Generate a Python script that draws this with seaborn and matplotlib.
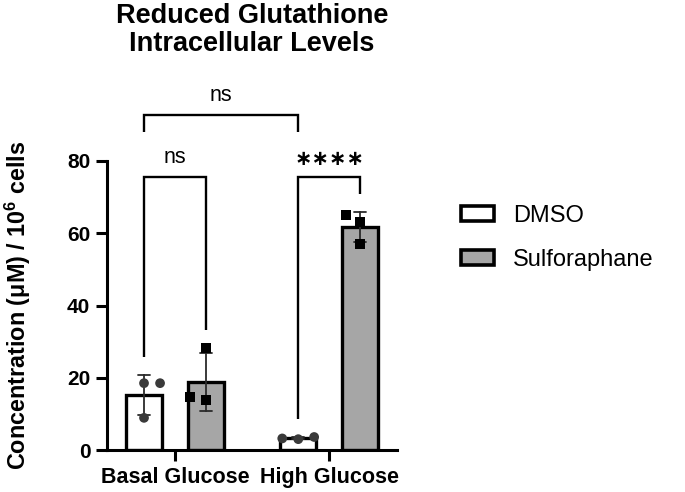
import numpy as np
import pandas as pd
import seaborn as sns
import matplotlib.pyplot as plt
from matplotlib.patches import Patch

# values, 3 replicates per bar
conditions = ["Basal Glucose", "High Glucose"]
treatments = ["DMSO", "Sulforaphane"]
dmso_basal = [18.5, 18.5, 8.9]
dmso_high = [3.0, 3.6, 3.2]
sulf_basal = [28.2, 13.8, 14.6]
sulf_high = [65.1, 63.2, 57.1]
labels_within = ["ns", "∗∗∗∗"]
label_between = "ns"

bar_colors = ["white", "#a6a6a6"]
point_colors = ["#3a3a3a", "black"]
point_markers = ["o", "s"]

rows = []
for cond, vals in zip(conditions, [dmso_basal, dmso_high]):
    rows += [(cond, "DMSO", v) for v in vals]
for cond, vals in zip(conditions, [sulf_basal, sulf_high]):
    rows += [(cond, "Sulforaphane", v) for v in vals]
df = pd.DataFrame(rows, columns=["condition", "treatment", "conc"])

sns.set_style("ticks")
plt.rcParams["font.family"] = ["Liberation Sans", "DejaVu Sans"]
plt.rcParams["mathtext.fontset"] = "custom"
plt.rcParams["mathtext.rm"] = "Liberation Sans"
plt.rcParams["mathtext.bf"] = "Liberation Sans:bold"
for k in ["text.color", "axes.labelcolor", "xtick.color", "ytick.color",
          "axes.edgecolor"]:
    plt.rcParams[k] = "black"

fig = plt.figure(figsize=(6.85, 4.92), dpi=100)
ax = fig.add_axes([107 / 685, 42 / 492, 290 / 685, 289 / 492])

sns.barplot(data=df, x="condition", y="conc", hue="treatment",
            order=conditions, hue_order=treatments, palette=bar_colors,
            saturation=1, errorbar="sd", capsize=0.16, width=0.8, gap=0.41,
            edgecolor="black", linewidth=2.4,
            err_kws={"color": "#2b2b2b", "linewidth": 1.3},
            legend=False, ax=ax)

for t, c, m in zip(treatments, point_colors, point_markers):
    sns.swarmplot(data=df[df.treatment == t], x="condition", y="conc",
                  hue="treatment", order=conditions, hue_order=treatments,
                  palette={k: c for k in treatments}, dodge=True, marker=m,
                  size=7, edgecolor="none", linewidth=4, legend=False,
                  ax=ax, zorder=5)

ax.set_xlim(-0.44, 1.44)
ax.set_ylim(0, 80)
ax.set_yticks([0, 20, 40, 60, 80])
sns.despine(ax=ax)
for s in ["left", "bottom"]:
    ax.spines[s].set_linewidth(2.2)
ax.tick_params(width=2.2, length=8, labelsize=15, pad=4, color="black")
ax.tick_params(axis="x", labelsize=15.5)
for lab in ax.get_xticklabels() + ax.get_yticklabels():
    lab.set_fontweight("bold")
ax.set_xlabel("")
ax.set_ylabel(r"Concentration (μM) / 10$^\mathbf{6}$ cells",
              fontsize=16.8, fontweight="bold")
ax.yaxis.set_label_coords(-0.255, 0.5)

ax.set_title("Reduced Glutathione\nIntracellular Levels",
             fontsize=19.5, fontweight="bold", pad=79, linespacing=1.1)

# significance brackets
centers = sorted(p.get_x() + p.get_width() / 2 for p in ax.patches)
groups = [dmso_basal, sulf_basal, dmso_high, sulf_high]
tops = [max(max(g), np.mean(g) + np.std(g, ddof=1)) + 5 for g in groups]


def bracket(x1, x2, y, y1, y2, text, ty, **kw):
    ax.plot([x1, x1, x2, x2], [y1, y, y, y2], color="black", lw=1.7,
            clip_on=False, solid_joinstyle="miter", solid_capstyle="butt")
    ax.text((x1 + x2) / 2, y + ty, text, ha="center", clip_on=False, **kw)


bracket(centers[0], centers[1], 75.6, tops[0], tops[1], labels_within[0],
        3.9, va="baseline", fontsize=15.5)
bracket(centers[2], centers[3], 75.6, tops[2], tops[3], labels_within[1],
        5.0, va="center", fontsize=15, fontweight="bold",
        family=["DejaVu Sans"])
bracket(centers[0], centers[2], 92.8, 88.0, 88.0, label_between,
        3.9, va="baseline", fontsize=15.5)

handles = [Patch(facecolor=c, edgecolor="black", linewidth=2.6, label=t)
           for c, t in zip(bar_colors, treatments)]
fig.legend(handles=handles, loc="upper left",
           bbox_to_anchor=(461 / 685, 1 - 205 / 492), frameon=False,
           fontsize=17, handlelength=1.4, handleheight=0.6,
           handletextpad=0.8, labelspacing=0.93, borderpad=0,
           borderaxespad=0)

fig.savefig("out.png", dpi=100)
